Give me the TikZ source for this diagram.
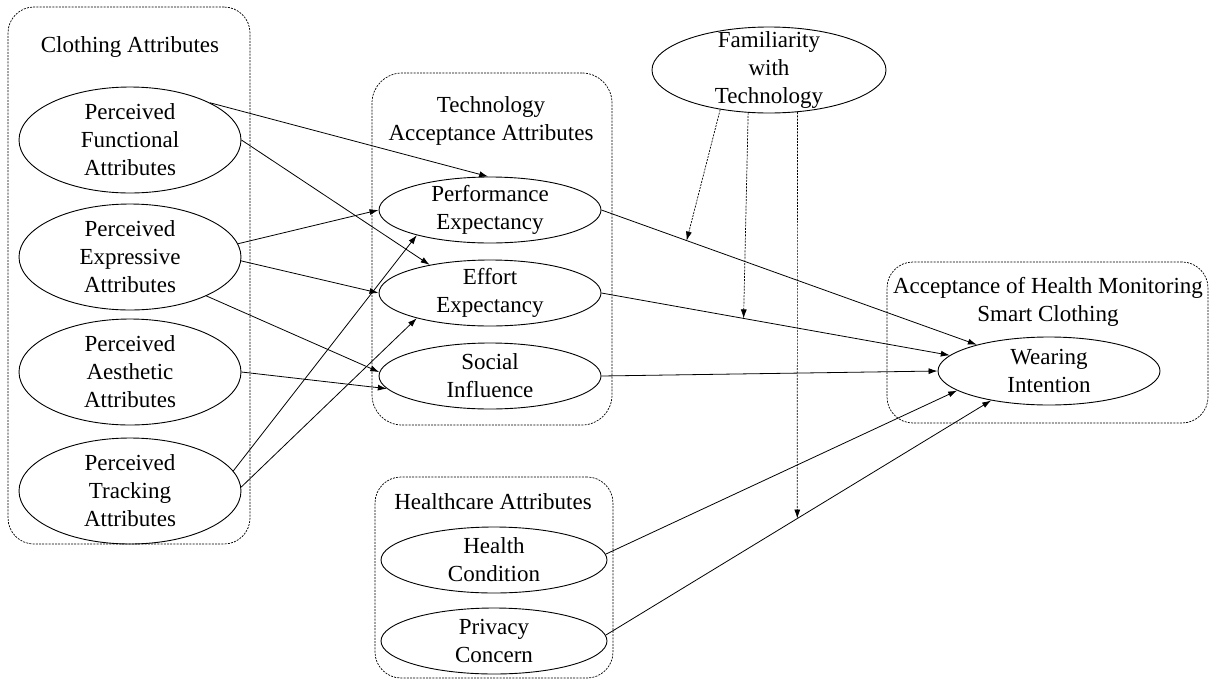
\documentclass[tikz,border=0pt]{standalone}
\usepackage{fontspec}
\setmainfont{Liberation Serif}
\usetikzlibrary{shapes.geometric,arrows.meta}
\begin{document}
\begin{tikzpicture}[x=1pt,y=-1pt,
  txt/.style={align=center,inner sep=0pt,font=\fontsize{23}{28}\selectfont},
  grp/.style={draw,dash pattern=on 2pt off 1.2pt,line width=0.7pt,rounded corners=26pt,inner sep=0pt},
  ell/.style={draw,ellipse,line width=0.9pt,inner sep=0pt},
  big/.style={ell,minimum width=222pt,minimum height=106pt},
  mid/.style={ell,minimum width=222pt,minimum height=66pt},
  arr/.style={line width=0.8pt,-{Latex[length=9pt,width=6pt]}},
  darr/.style={line width=0.7pt,dash pattern=on 2pt off 1.2pt,-{Latex[length=9pt,width=6pt]}}]
\useasboundingbox (0,0) rectangle (1211,681);
% group boxes
\node[grp,minimum width=242pt,minimum height=537pt] (cbox) at (129,275.5) {};
\node[grp,minimum width=240pt,minimum height=352pt,rounded corners=30pt] (tbox) at (492,249) {};
\node[grp,minimum width=238pt,minimum height=201pt] (hbox) at (494,577.5) {};
\node[grp,minimum width=321pt,minimum height=161pt] (abox) at (1047.5,342.5) {};
% group titles
\node[txt] (ctitle) at (130,47) {Clothing Attributes};
\node[txt] (ttitle) at (491,121) {Technology\\Acceptance Attributes};
\node[txt] (htitle) at (493,502) {Healthcare Attributes};
\node[txt] (atitle) at (1048,302) {Acceptance of Health Monitoring\\Smart Clothing};
% ellipses
\node[big,label={[txt]center:{Perceived\\Functional\\Attributes}}] (pf) at (130,140) {};
\node[big,label={[txt]center:{Perceived\\Expressive\\Attributes}}] (px) at (130,257) {};
\node[big,label={[txt]center:{Perceived\\Aesthetic\\Attributes}}] (pa) at (130,372) {};
\node[big,label={[txt]center:{Perceived\\Tracking\\Attributes}}] (pt) at (130,491) {};
\node[mid,label={[txt]center:{Performance\\Expectancy}}] (perf) at (490,210) {};
\node[mid,label={[txt]center:{Effort\\Expectancy}}] (eff) at (490,293) {};
\node[mid,label={[txt]center:{Social\\Influence}}] (soc) at (490,376) {};
\node[ell,minimum width=234pt,minimum height=86pt,label={[txt]center:{Familiarity\\with\\Technology}}] (fam) at (769,70) {};
\node[ell,minimum width=226pt,minimum height=66pt,label={[txt]center:{Health\\Condition}}] (hc) at (494,560) {};
\node[ell,minimum width=226pt,minimum height=66pt,label={[txt]center:{Privacy\\Concern}}] (pc) at (494,641) {};
\node[ell,minimum width=222pt,minimum height=68pt,label={[txt]center:{Wearing\\Intention}}] (wi) at (1049,371) {};
% connectors
\draw[arr] (pf.25) -- (perf.93);
\draw[arr] (pf.east) -- (eff.155);
\draw[arr] (px.7) -- (perf.west);
\draw[arr] (px.-2) -- (eff.west);
\draw[arr] (px.-27) -- (soc.178);
\draw[arr] (pa.east) -- (soc.187);
\draw[arr] (pt.11.5) -- (perf.199);
\draw[arr] (pt.2) -- (eff.199);
\draw[arr] (perf.east) -- coordinate[pos=0.227] (m1) (wi.160.6);
\draw[arr] (eff.east) -- coordinate[pos=0.408] (m2) (wi.171.6);
\draw[arr] (soc.east) -- (wi.west);
\draw[arr] (hc.3) -- (wi.192);
\draw[arr] (pc.3) -- coordinate[pos=0.497] (m3) (wi.207.7);
\draw[darr] (fam.219) -- (m1);
\draw[darr] (fam.244) -- (m2);
\draw[darr] (fam.304) -- (m3);
\end{tikzpicture}
\end{document}
